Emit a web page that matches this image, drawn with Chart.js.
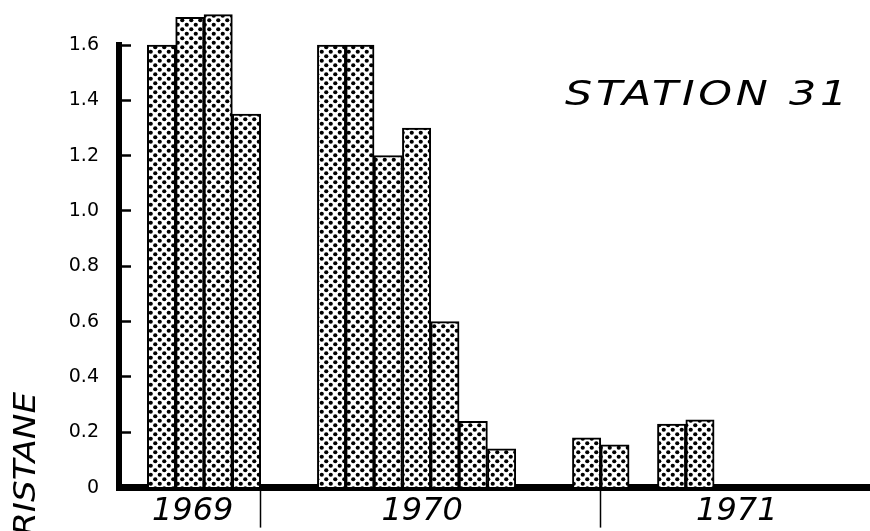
<!DOCTYPE html>
<html>
<head>
<meta charset="utf-8">
<script src="https://cdn.jsdelivr.net/npm/chart.js@4.4.1/dist/chart.umd.min.js"></script>
<style>
  html, body { margin: 0; padding: 0; background: #fff; }
  canvas { display: block; }
</style>
</head>
<body>
<canvas id="chart" width="870" height="531"></canvas>
<script>
// month index counted from Jan 1969 (0 = Jan 1969), one bar per sampled month
const sampleMonths = [8, 9, 10, 11, 14, 15, 16, 17, 18, 19, 20, 23, 24, 26, 27];
const pristane = [1.60, 1.70, 1.71, 1.35, 1.60, 1.60, 1.20, 1.30, 0.60, 0.24, 0.14, 0.18, 0.155, 0.23, 0.245];

// year labels and where the year boundaries fall (same month index)
const yearLabels = ["1969", "1970", "1971"];
const yearLabelPos = [9.6, 17.7, 28.8];
const yearBreaks = [12, 24];

const stationTitle = "STATION 31";
const axisTitle = "PRISTANE";

const canvas = document.getElementById("chart");

function dotPattern() {
  const tile = document.createElement("canvas");
  tile.width = 9;
  tile.height = 9;
  const c = tile.getContext("2d");
  c.fillStyle = "#fff";
  c.fillRect(0, 0, 9, 9);
  c.fillStyle = "#000";
  for (const [x, y] of [[2.25, 2.25], [6.75, 6.75]]) {
    c.beginPath();
    c.arc(x, y, 2.1, 0, Math.PI * 2);
    c.fill();
  }
  return canvas.getContext("2d").createPattern(tile, "repeat");
}

// hand lettering: station name and the (cut off) axis name
const lettering = {
  id: "lettering",
  afterDraw(chart) {
    const ctx = chart.ctx;
    ctx.save();
    ctx.fillStyle = "#000";
    ctx.font = 'italic 34px "DejaVu Sans"';
    ctx.letterSpacing = "3px";
    ctx.translate(565, 105);
    ctx.scale(1.26, 1);
    ctx.fillText(stationTitle, 0, 0);
    ctx.restore();

    ctx.save();
    ctx.fillStyle = "#000";
    ctx.font = 'italic 30px "DejaVu Sans"';
    ctx.translate(35, 392);
    ctx.rotate(-Math.PI / 2);
    ctx.scale(1.14, 1);
    ctx.textAlign = "right";
    ctx.fillText(axisTitle, 0, 0);
    ctx.restore();
  }
};

new Chart(canvas, {
  type: "bar",
  data: {
    datasets: [{
      data: sampleMonths.map((m, i) => ({ x: m + 0.5, y: pristane[i] })),
      backgroundColor: dotPattern(),
      borderColor: "#000",
      borderWidth: 2,
      categoryPercentage: 1,
      barPercentage: 1,
      clip: false
    }]
  },
  options: {
    responsive: false,
    animation: false,
    devicePixelRatio: 1,
    layout: { padding: { top: 45, right: 0, bottom: 0, left: 0 } },
    plugins: {
      legend: { display: false },
      tooltip: { enabled: false }
    },
    scales: {
      x: {
        type: "linear",
        min: 7,
        max: 33.5,
        offset: false,
        z: 1,
        afterBuildTicks: s => {
          s.ticks = [...yearLabelPos, ...yearBreaks].sort((a, b) => a - b).map(v => ({ value: v }));
        },
        afterFit: s => { s.height = 38; },
        border: { display: true, color: "#000", width: 7 },
        grid: {
          offset: false,
          drawOnChartArea: false,
          drawTicks: true,
          tickLength: 40,
          tickWidth: 1.5,
          tickColor: c => (c.tick && yearBreaks.includes(c.tick.value)) ? "#000" : "rgba(0,0,0,0)"
        },
        ticks: {
          autoSkip: false,
          maxRotation: 0,
          padding: -35,
          color: "#000",
          font: { family: "DejaVu Sans", size: 32, style: "italic" },
          callback: v => {
            const i = yearLabelPos.indexOf(v);
            return i >= 0 ? yearLabels[i] : "";
          }
        }
      },
      y: {
        min: 0,
        max: 1.6,
        afterFit: s => { s.width = 119; },
        border: { color: "#000", width: 6 },
        grid: { drawOnChartArea: false, tickLength: -12, tickWidth: 2.5, tickColor: "#000" },
        ticks: {
          stepSize: 0.2,
          padding: 32,
          color: "#000",
          font: { family: "DejaVu Sans", size: 19 },
          callback: v => v === 0 ? "0" : v.toFixed(1)
        }
      }
    }
  },
  plugins: [lettering]
});
</script>
</body>
</html>
